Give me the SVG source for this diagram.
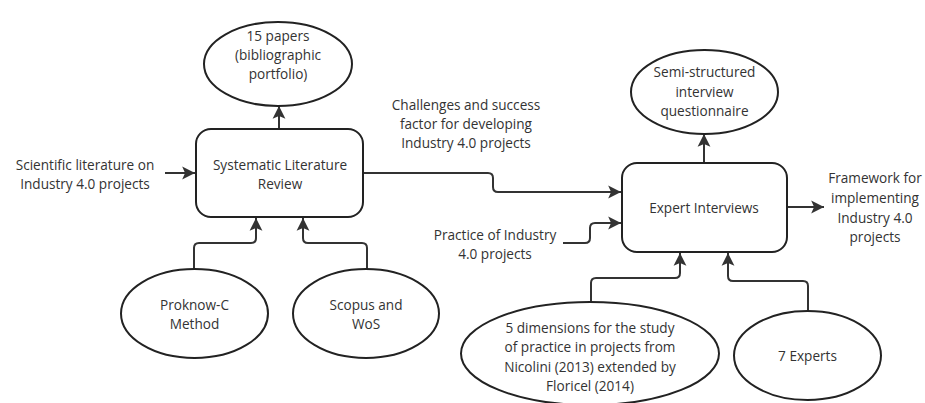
<svg xmlns="http://www.w3.org/2000/svg" width="925" height="403" viewBox="0 0 925 403">
<defs>
<marker id="ah" markerUnits="userSpaceOnUse" markerWidth="14" markerHeight="14" viewBox="0 0 12 12" refX="11" refY="6" orient="auto">
<path d="M0,0.5 L11,6 L0,11.5 L2.5,6 Z" fill="#333"/>
</marker>
</defs>
<style>
.n{fill:#fff;stroke:#222;stroke-width:2}
.c{fill:none;stroke:#333;stroke-width:2;marker-end:url(#ah)}
text{font-family:"Open Sans","Noto Sans","DejaVu Sans",sans-serif;font-size:13.6px;fill:#333;text-anchor:middle}
</style>
<rect width="925" height="403" fill="#fff"/>
<g id="connectors">
<path class="c" d="M279,129 V106"/>
<path class="c" d="M165,173 H195"/>
<path class="c" d="M363,173 H488 Q493,173 493,178 V187 Q493,192 498,192 H621"/>
<path class="c" d="M563,243 H585 Q590,243 590,238 V228 Q590,223 595,223 H621"/>
<path class="c" d="M194,269 V248 Q194,243 199,243 H251 Q256,243 256,238 V218"/>
<path class="c" d="M367,269 V248 Q367,243 362,243 H308 Q303,243 303,238 V218"/>
<path class="c" d="M704,163 V134"/>
<path class="c" d="M787,207 H824"/>
<path class="c" d="M591,302 V283 Q591,278 596,278 H675 Q680,278 680,273 V253"/>
<path class="c" d="M808,311 V286 Q808,281 803,281 H733 Q728,281 728,276 V253"/>
</g>
<g id="lbl-input">
<text x="85" y="170">Scientific literature on</text>
<text x="85" y="189">Industry 4.0 projects</text>
</g>
<g id="lbl-challenges">
<text x="466" y="110">Challenges and success</text>
<text x="466" y="129">factor for developing</text>
<text x="466" y="148">Industry 4.0 projects</text>
</g>
<g id="lbl-practice">
<text x="495" y="240">Practice of Industry</text>
<text x="495" y="259">4.0 projects</text>
</g>
<g id="lbl-framework">
<text x="875" y="183">Framework for</text>
<text x="875" y="203">implementing</text>
<text x="875" y="223">Industry 4.0</text>
<text x="875" y="242">projects</text>
</g>
<g id="slr">
<rect class="n" x="196" y="129" width="167" height="88" rx="15"/>
<text x="280" y="170">Systematic Literature</text>
<text x="280" y="189">Review</text>
</g>
<g id="papers">
<ellipse class="n" cx="278" cy="64" rx="74" ry="42"/>
<text x="278" y="41">15 papers</text>
<text x="278" y="60">(bibliographic</text>
<text x="278" y="79">portfolio)</text>
</g>
<g id="proknow">
<ellipse class="n" cx="194.5" cy="313.5" rx="73.5" ry="44.5"/>
<text x="194.5" y="310">Proknow-C</text>
<text x="194.5" y="329">Method</text>
</g>
<g id="scopus">
<ellipse class="n" cx="366" cy="313.5" rx="73" ry="44.5"/>
<text x="366" y="310">Scopus and</text>
<text x="366" y="329">WoS</text>
</g>
<g id="expert">
<rect class="n" x="622" y="163" width="165" height="89" rx="15"/>
<text x="704" y="213">Expert Interviews</text>
</g>
<g id="questionnaire">
<ellipse class="n" cx="704.5" cy="92" rx="73.5" ry="42"/>
<text x="704.5" y="77">Semi-structured</text>
<text x="704.5" y="97">interview</text>
<text x="704.5" y="116">questionnaire</text>
</g>
<g id="dimensions">
<ellipse class="n" cx="590" cy="353.5" rx="129" ry="51.5"/>
<text x="590" y="333">5 dimensions for the study</text>
<text x="590" y="352">of practice in projects from</text>
<text x="590" y="372">Nicolini (2013) extended by</text>
<text x="590" y="391">Floricel (2014)</text>
</g>
<g id="experts7">
<ellipse class="n" cx="807.5" cy="355.5" rx="73.5" ry="44.5"/>
<text x="807.5" y="361">7 Experts</text>
</g>
</svg>
